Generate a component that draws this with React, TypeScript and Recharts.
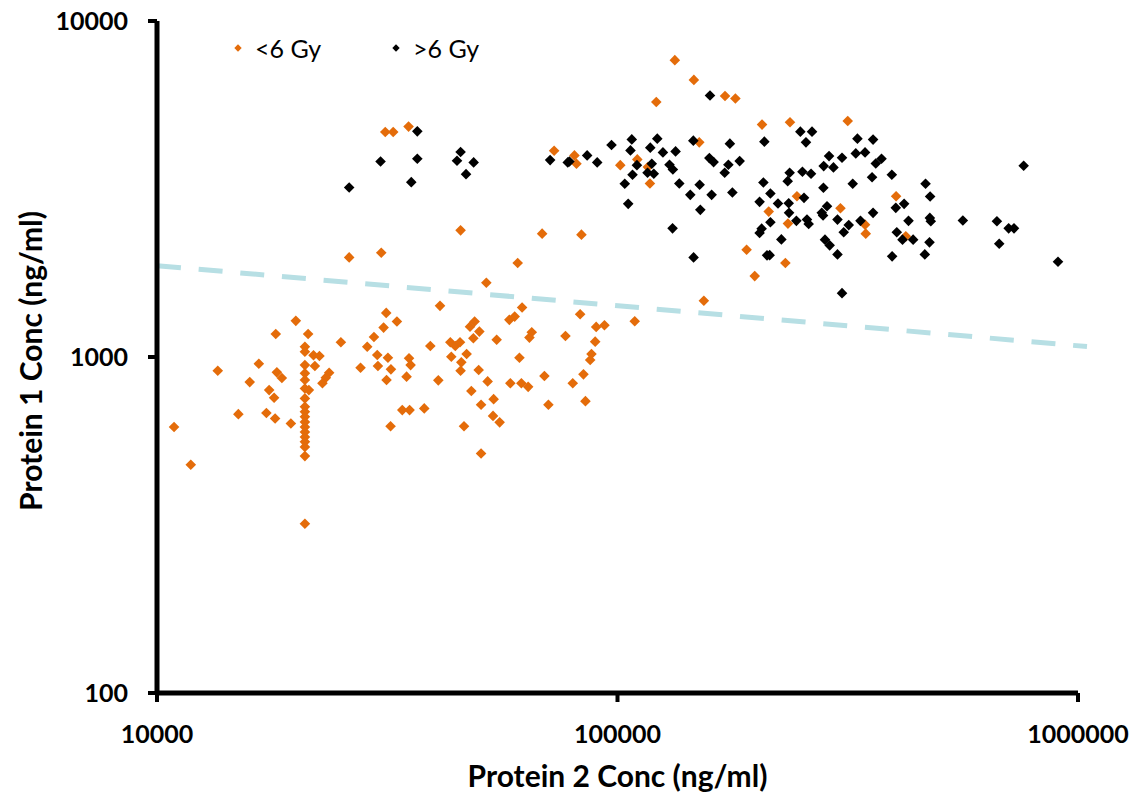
import { ScatterChart, Scatter, XAxis, YAxis, ReferenceLine } from 'recharts';

const FONT = 'Lato, "Open Sans", sans-serif';

const xTicks = [10000, 100000, 1000000];
const yTicks = [100, 1000, 10000];

const seriesNames = ['<6 Gy', '>6 Gy'];
const seriesColors = ['#E46C0A', '#000000'];

// [Protein 2, Protein 1] in ng/ml
const lowDose: [number, number][] = [
  [10890, 619], [11840, 478], [13550, 910], [15020, 676], [15900, 842], [16640, 955],
  [17280, 681], [17520, 797], [17960, 756], [18050, 656], [18110, 1171], [18210, 900],
  [18670, 866], [19530, 634], [20020, 1281], [21290, 1171],
  [20950, 1073], [20950, 1037], [20950, 946], [20950, 894], [20950, 854], [20950, 806],
  [20950, 753], [20950, 711], [20950, 687], [20950, 664], [20950, 641], [20950, 619],
  [20950, 598], [20950, 578], [20950, 559], [20950, 540], [20950, 507], [20950, 319],
  [21870, 1012], [22530, 1007], [22020, 940], [21370, 797],
  [23650, 898], [23260, 868], [22870, 835], [25080, 1106], [26140, 1979], [28610, 1073],
  [29590, 1147], [30080, 1014], [30180, 940], [27670, 929], [30690, 2044], [31460, 1353],
  [33190, 1275], [31050, 1223], [31730, 995], [32210, 919], [31510, 854], [35260, 991],
  [35540, 946], [34830, 874], [34090, 695], [35360, 695], [38050, 703], [32150, 622],
  [39220, 1078], [40820, 852], [41170, 1420], [43350, 1106], [44440, 1078], [45500, 1106],
  [43560, 1002], [47030, 1021], [45800, 964], [45630, 910], [49950, 915], [46420, 622],
  [45630, 2382], [48950, 1275], [47830, 1231], [50120, 1190], [48640, 1137], [48150, 792],
  [50550, 721], [50550, 516], [51900, 1663], [52240, 846], [53830, 749], [53670, 668],
  [55470, 639], [54650, 1126], [58230, 1290], [59800, 1319], [58520, 835], [60710, 1904],
  [61240, 995], [61840, 835], [63970, 815], [62060, 1404], [65130, 1185], [64380, 1142],
  [68600, 2329], [69390, 878], [70790, 721], [77090, 1155], [79950, 835], [82960, 1341],
  [83500, 2313], [84350, 888], [85190, 739], [87230, 980], [87800, 1021], [89440, 1111],
  [89890, 1229], [93690, 1243], [109000, 1278],
  [31310, 4672], [32580, 4672], [35180, 4849], [72840, 4111], [80630, 3981], [81450, 3760],
  [101400, 3724], [110400, 3873], [116400, 3674], [117600, 3285], [121400, 5742],
  [133200, 7647], [146500, 6679], [150500, 4353], [154000, 1470], [171200, 5984],
  [180300, 5879], [190700, 2086], [198600, 1741], [206000, 4916], [213000, 2709],
  [231500, 1904], [234500, 2495], [236900, 4994], [245300, 3009], [304900, 2771],
  [316200, 5039], [344800, 2477], [346000, 2329], [402700, 3009], [422800, 2286],
];

const highDose: [number, number][] = [
  [26140, 3195], [30580, 3820], [36750, 4695], [36750, 3891], [35660, 3314], [45630, 4073],
  [44820, 3839], [48710, 3794], [46890, 3501], [71400, 3855], [77980, 3794], [78620, 3820],
  [85920, 3981], [90350, 3794], [97050, 4273], [103700, 3277], [105500, 2856], [107400, 4443],
  [106700, 4120], [117800, 4198], [122000, 4466], [125500, 4064], [133700, 4092], [146100, 4405],
  [175400, 4315], [110200, 3724], [118700, 3760], [116200, 3535], [119900, 3511], [107800, 3487],
  [129700, 3735], [131900, 3615], [136200, 3285], [143900, 3038], [150800, 3255], [160100, 3038],
  [151300, 2741], [158300, 3908], [161700, 3802], [174100, 3735], [170900, 3535], [184200, 3828],
  [177600, 3087], [131700, 2415], [146300, 1979], [158800, 5999], [208400, 4375], [249500, 4685],
  [264500, 4685], [256600, 4353], [207400, 3307], [214800, 3066], [203500, 2896], [223100, 2862],
  [236500, 3535], [234200, 3337], [252100, 3559], [263200, 3511], [254100, 2976], [235400, 2868],
  [235800, 2685], [244600, 2542], [214800, 2518], [205600, 2410], [203500, 2340], [257900, 2564],
  [260100, 2489], [226900, 2239], [211200, 2007], [214000, 2010], [288000, 3962], [307300, 3919],
  [280400, 3700], [294400, 3667], [280000, 3189], [285100, 2810], [277700, 2685], [279500, 2636],
  [300400, 2564], [317800, 2469], [309900, 2350], [282200, 2235], [288900, 2149], [300400, 2020],
  [307300, 1549], [324200, 3279], [331900, 4466], [358900, 4436], [329200, 4036], [344800, 4064],
  [363800, 3768], [374400, 3891], [357100, 3429], [394200, 3487], [466600, 3277], [477400, 3003],
  [419200, 2856], [402100, 2779], [358900, 2685], [337000, 2542], [428500, 2542], [476700, 2594],
  [479000, 2535], [404100, 2350], [415800, 2235], [438500, 2235], [475900, 2194], [394800, 1993],
  [464900, 2020], [562300, 2547], [666700, 2535], [707000, 2415], [726100, 2415], [674400, 2174],
  [762100, 3710], [904800, 1921],
];

// dashed separating line (two end points)
const cutoffLine = [
  { x: 10000, y: 1870 },
  { x: 1046000, y: 1074 },
];

const toPoints = (pairs: [number, number][]) => pairs.map(([x, y]) => ({ x, y }));

function diamondPath(cx: number, cy: number, r: number) {
  return `M${cx},${cy - r}L${cx + r},${cy}L${cx},${cy + r}L${cx - r},${cy}Z`;
}

const tickStyle = { fill: '#000', fontSize: 25, fontWeight: 700, fontFamily: FONT };

export default function App() {
  const series = [toPoints(lowDose), toPoints(highDose)];

  return (
    <div style={{ position: 'absolute', left: 0, top: 0, width: 1133, height: 792, background: '#fff' }}>
      <ScatterChart width={1133} height={792} margin={{ top: 21, right: 55, bottom: 0, left: 0 }}>
        <XAxis
          dataKey="x"
          type="number"
          scale="log"
          domain={[10000, 1000000]}
          ticks={xTicks}
          interval={0}
          allowDataOverflow
          height={99}
          axisLine={{ stroke: '#000', strokeWidth: 5 }}
          tickLine={{ stroke: '#000', strokeWidth: 4 }}
          tickSize={9}
          tickMargin={23}
          tick={tickStyle}
          label={(props: any) => {
            const vb = props.viewBox;
            return (
              <text x={vb.x + vb.width / 2} y={vb.y + 94} textAnchor="middle"
                fontFamily={FONT} fontSize={30} fontWeight={700} fill="#000">
                Protein 2 Conc (ng/ml)
              </text>
            );
          }}
        />
        <YAxis
          dataKey="y"
          type="number"
          scale="log"
          domain={[100, 10000]}
          ticks={yTicks}
          interval={0}
          allowDataOverflow
          width={157}
          axisLine={{ stroke: '#000', strokeWidth: 5 }}
          tickLine={{ stroke: '#000', strokeWidth: 4 }}
          tickSize={9}
          tickMargin={20}
          tick={tickStyle}
          label={(props: any) => {
            const vb = props.viewBox;
            const cx = 30;
            const cy = vb.y + vb.height / 2 + 4;
            return (
              <text x={cx} y={cy} textAnchor="middle" dominantBaseline="central"
                transform={`rotate(-90, ${cx}, ${cy})`}
                fontFamily={FONT} fontSize={30} fontWeight={700} fill="#000">
                Protein 1 Conc (ng/ml)
              </text>
            );
          }}
        />
        <ReferenceLine
          segment={cutoffLine}
          stroke="#B7DFE4"
          strokeWidth={5}
          strokeDasharray="24 17.8"
          ifOverflow="visible"
        />
        {series.map((data, i) => (
          <Scatter
            key={seriesNames[i]}
            name={seriesNames[i]}
            data={data}
            fill={seriesColors[i]}
            isAnimationActive={false}
            shape={(p: any) => <path d={diamondPath(p.cx, p.cy, 5.3)} fill={seriesColors[i]} />}
          />
        ))}
      </ScatterChart>

      {/* legend */}
      {seriesNames.map((name, i) => {
        const left = i === 0 ? 238 : 396;
        return (
          <div key={name}>
            <svg width={10} height={10} style={{ position: 'absolute', left: left - 5, top: 43.3 }}>
              <path d={diamondPath(5, 5, 3.7)} fill={seriesColors[i]} />
            </svg>
            <span style={{ position: 'absolute', left: left + 17, top: 35.8, fontFamily: FONT,
              fontSize: 25, lineHeight: '25px', color: '#000', whiteSpace: 'nowrap' }}>
              {name}
            </span>
          </div>
        );
      })}
    </div>
  );
}
